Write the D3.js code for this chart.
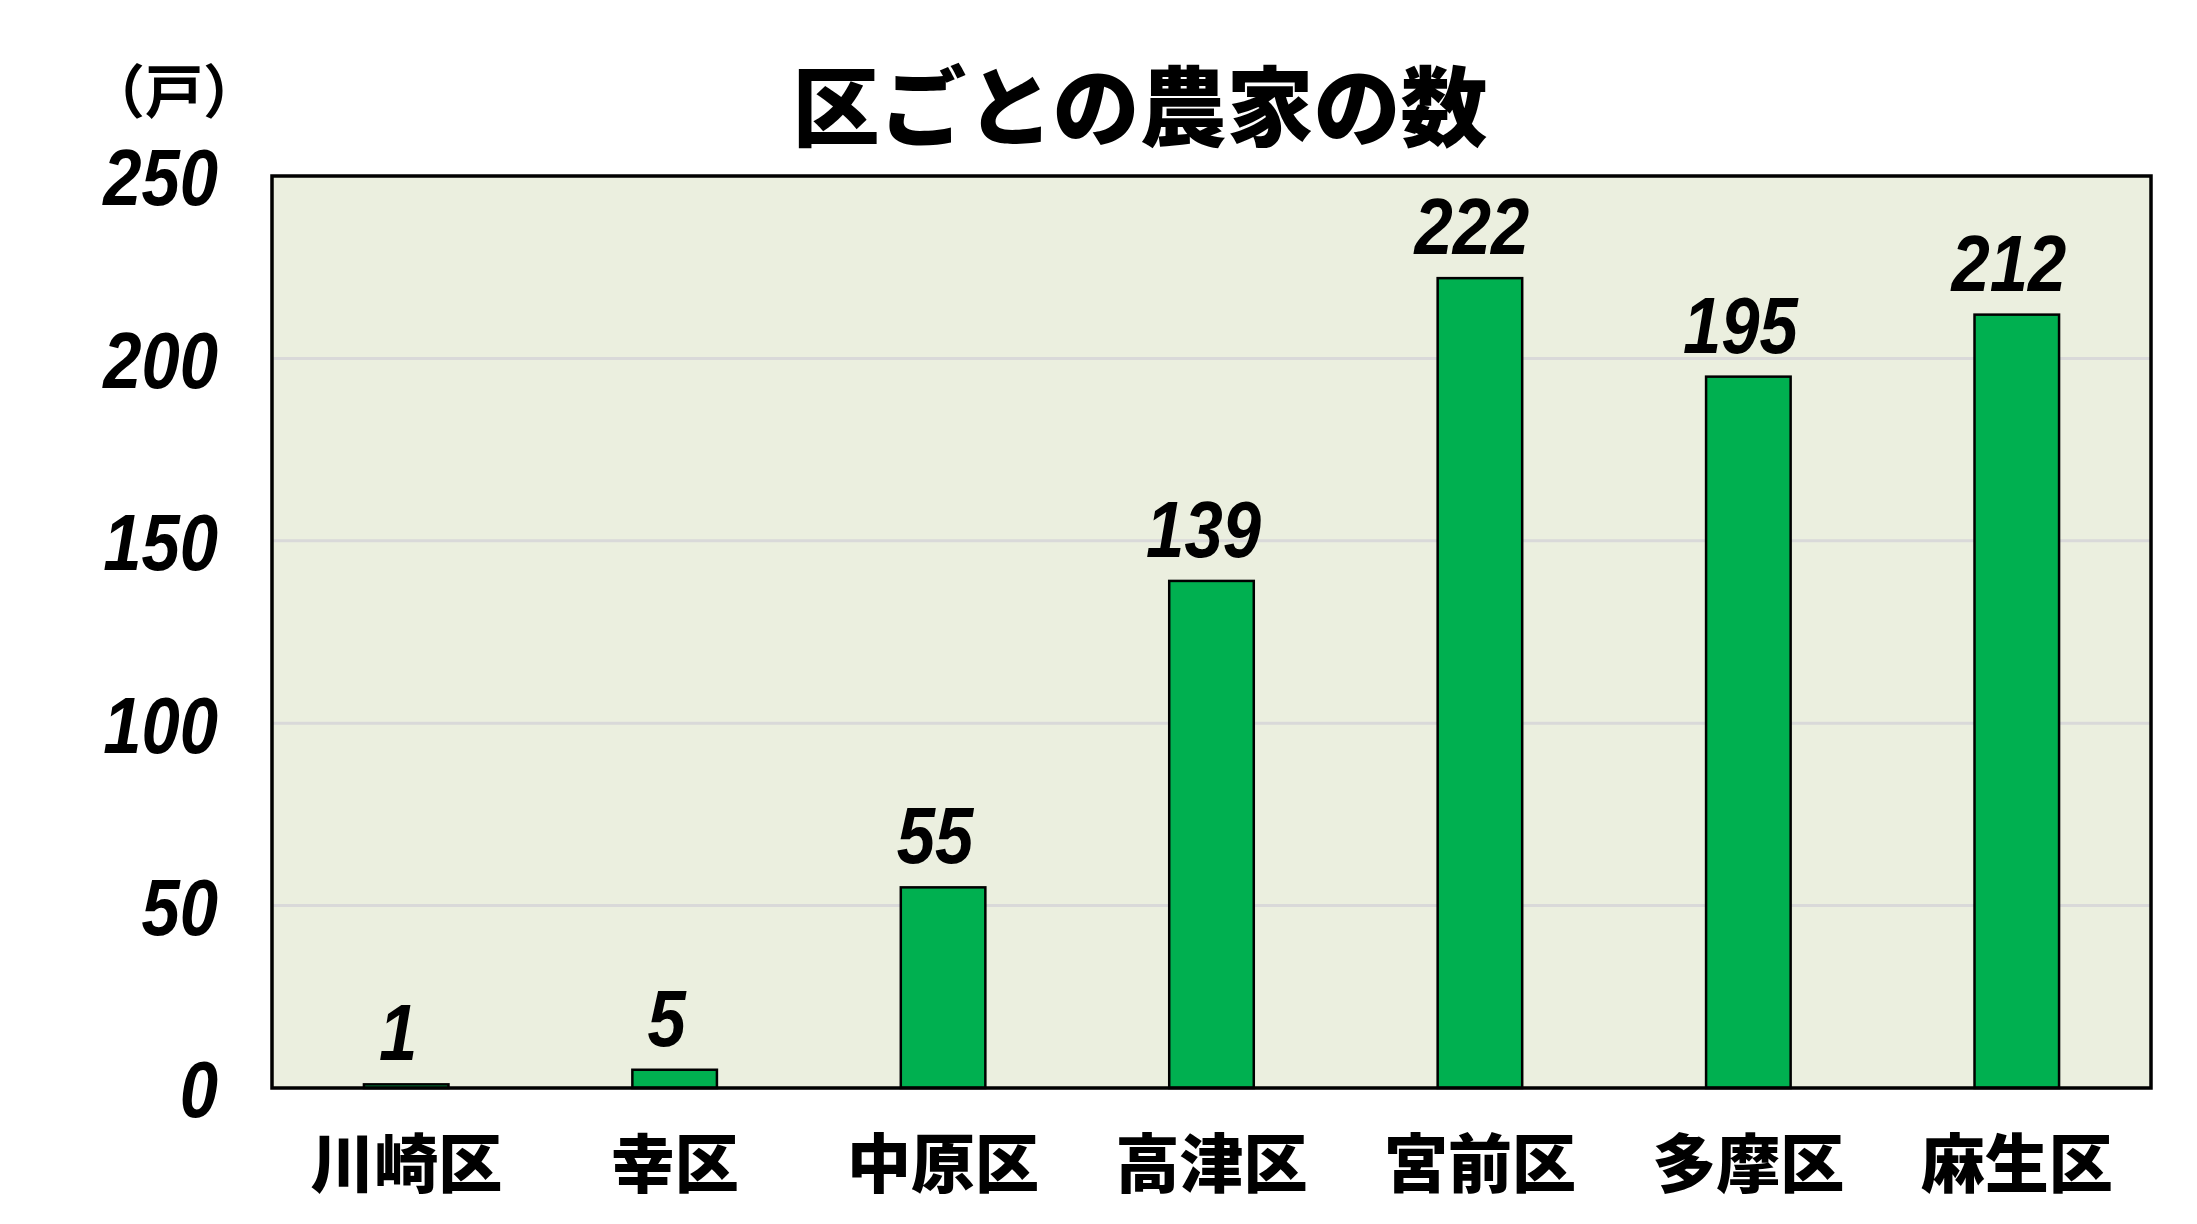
<!DOCTYPE html>
<html>
<head>
<meta charset="utf-8">
<script src="https://cdn.jsdelivr.net/npm/d3@7"></script>
<style>
  body { margin: 0; background: #fff; }
  .num { font-family: "Liberation Sans", sans-serif; font-weight: bold; font-style: italic; }
  .jp { font-family: "Noto Sans CJK JP", sans-serif; font-weight: 900; }
</style>
</head>
<body>
<div id="chart"></div>
<script>
// data
const wards = ["川崎区", "幸区", "中原区", "高津区", "宮前区", "多摩区", "麻生区"];
const farms = [1, 5, 55, 139, 222, 195, 212];
const yTicks = [0, 50, 100, 150, 200, 250];
const title = "区ごとの農家の数";
const unit = "（戸）";

function barGraph() {
  const W = 2197, H = 1224;
  const margin = {top: 176, right: 46, bottom: 136, left: 272};
  const width = W - margin.left - margin.right;
  const height = H - margin.top - margin.bottom;
  const squeeze = 0.86; // digits are narrow in the original

  let x = d3.scaleBand().domain(wards).range([0, width]);
  let y = d3.scaleLinear().domain([0, 250]).range([height, 0]);
  const barW = x.bandwidth() * 0.315;

  let svg = d3.select("#chart")
    .append("svg")
    .attr("width", W)
    .attr("height", H);

  // title + unit
  svg.append("text")
    .attr("class", "jp")
    .attr("x", 1140)
    .attr("y", 140)
    .attr("text-anchor", "middle")
    .style("font-size", "87px")
    .text(title);

  svg.append("text")
    .attr("class", "jp")
    .attr("x", 174)
    .attr("y", 113)
    .attr("text-anchor", "middle")
    .style("font-size", "58px")
    .style("font-weight", "bold")
    .text(unit);

  let g = svg.append("g")
    .attr("transform", `translate(${margin.left}, ${margin.top})`);

  // plot background
  g.append("rect")
    .attr("width", width)
    .attr("height", height)
    .attr("fill", "#EBEFDF");

  // gridlines
  g.selectAll(".grid")
    .data(yTicks.slice(1, -1))
    .enter()
    .append("line")
    .attr("x1", 0)
    .attr("x2", width)
    .attr("y1", d => y(d))
    .attr("y2", d => y(d))
    .attr("stroke", "#D9D9D9")
    .attr("stroke-width", 3);

  // y axis labels
  let yAxis = d3.axisLeft(y).tickValues(yTicks).tickSize(0);
  g.append("g")
    .call(yAxis)
    .call(s => s.select(".domain").remove())
    .selectAll("text")
    .attr("class", "num")
    .attr("fill", "#000")
    .attr("x", 0)
    .attr("dy", "0.36em")
    .attr("transform", `translate(-54,0) scale(${squeeze},1)`)
    .style("font-size", "80px");

  // x axis labels
  let xAxis = d3.axisBottom(x).tickSize(0).tickPadding(54);
  g.append("g")
    .attr("transform", `translate(0,${height})`)
    .call(xAxis)
    .call(s => s.select(".domain").remove())
    .selectAll("text")
    .attr("class", "jp")
    .attr("fill", "#000")
    .style("font-size", "64px");

  // bars
  g.selectAll(".bar")
    .data(farms)
    .enter()
    .append("rect")
    .attr("x", (d, i) => x(wards[i]) + x.bandwidth() / 2 - barW / 2)
    .attr("width", barW)
    .attr("y", d => y(d))
    .attr("height", d => height - y(d))
    .attr("fill", "#00B050")
    .attr("stroke", "#000")
    .attr("stroke-width", 2.5);

  // value labels
  g.selectAll(".val")
    .data(farms)
    .enter()
    .append("text")
    .attr("class", "num")
    .attr("transform", (d, i) =>
      `translate(${x(wards[i]) + x.bandwidth() / 2 - 8},${y(d) - 24}) scale(${squeeze},1)`)
    .attr("text-anchor", "middle")
    .style("font-size", "80px")
    .text(d => d);

  // plot frame
  g.append("rect")
    .attr("width", width)
    .attr("height", height)
    .attr("fill", "none")
    .attr("stroke", "#000")
    .attr("stroke-width", 3.5);
}

barGraph();
</script>
</body>
</html>
